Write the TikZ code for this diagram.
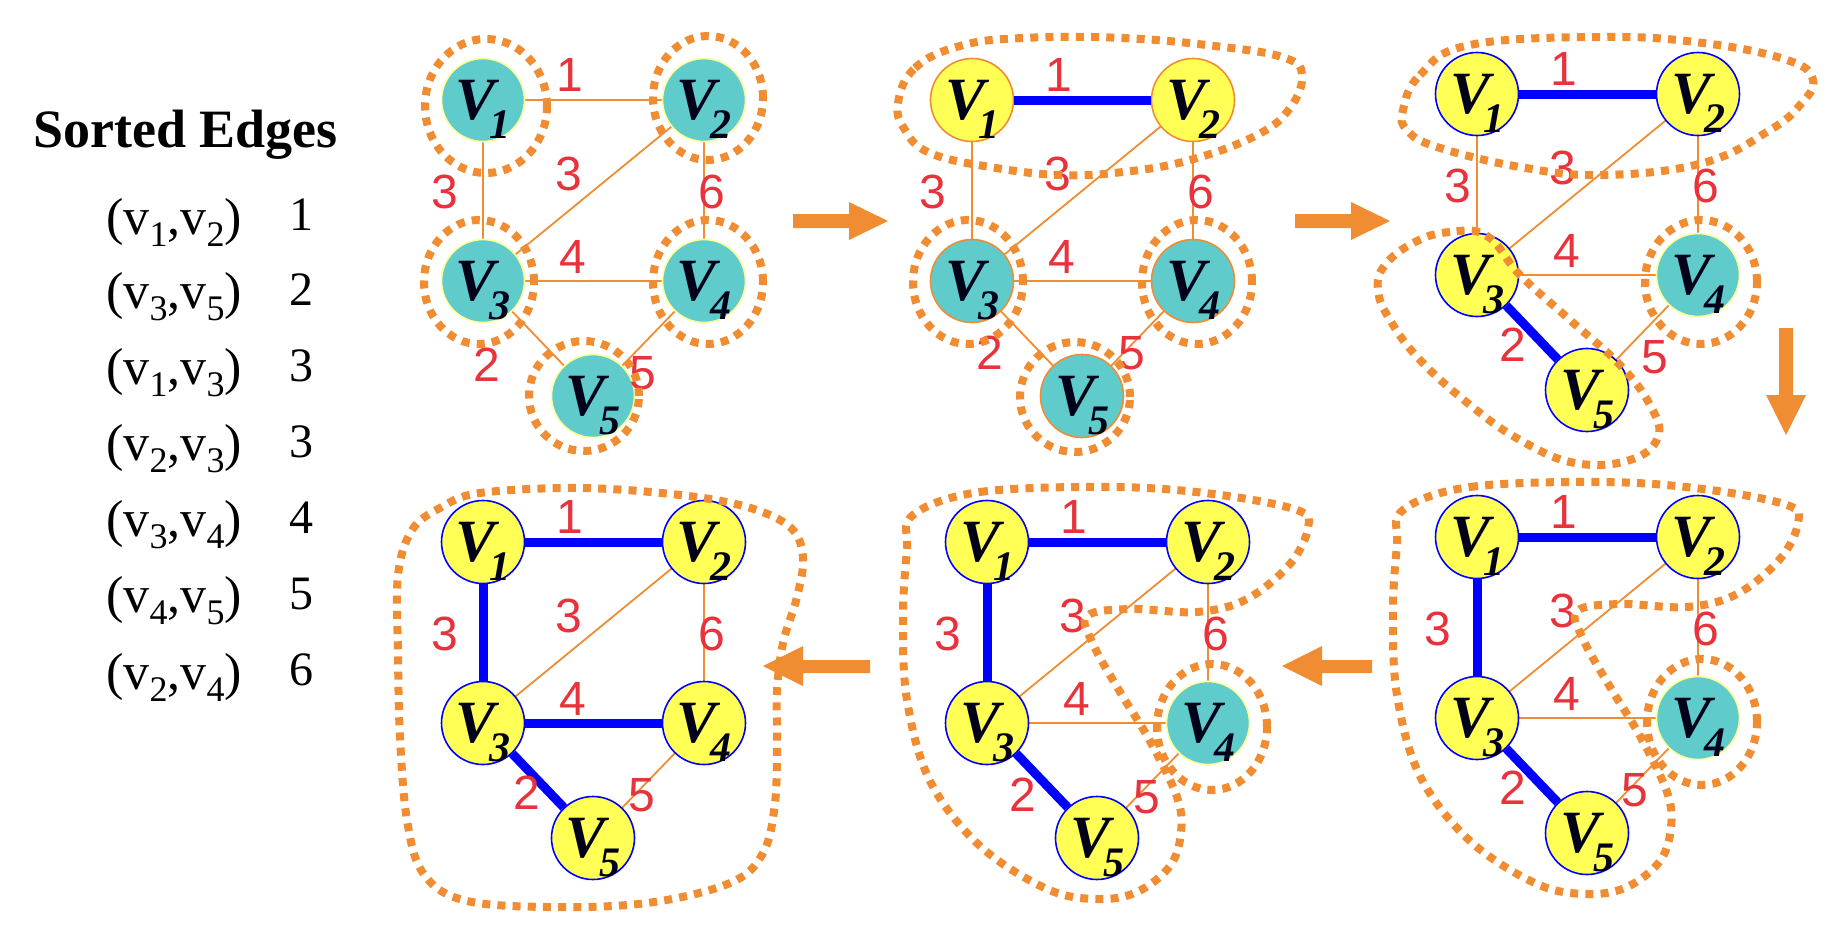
\documentclass[tikz,border=0pt]{standalone}
\usepackage{fontspec}
\setmainfont{Liberation Serif}
\newfontfamily\lsans{Liberation Sans}
\definecolor{orng}{HTML}{F08C32}
\definecolor{tealf}{HTML}{5FCBCB}
\definecolor{yelf}{HTML}{FFFF55}
\definecolor{paleb}{HTML}{FFFF99}
\definecolor{redl}{HTML}{E8323C}
\definecolor{bluel}{HTML}{0000FF}
\definecolor{ink}{HTML}{000018}
\pgfdeclarelayer{bgl}
\pgfdeclarelayer{edgel}
\pgfsetlayers{bgl,edgel,main}
\newcommand{\vlab}[1]{{\fontsize{30}{30}\selectfont\bfseries\itshape\color{ink}V\kern-3.5pt\raisebox{-9.5pt}[0pt][0pt]{\fontsize{21}{21}\selectfont #1}}}
\newcommand{\sbs}[1]{\raisebox{-6pt}{\fontsize{18}{18}\selectfont #1}}
\tikzset{
  vx/.style={circle, minimum size=41.5pt, inner sep=0pt, line width=0.8pt},
  tp/.style={vx, fill=tealf, draw=paleb},
  to/.style={vx, fill=tealf, draw=orng},
  yo/.style={vx, fill=yelf, draw=orng},
  yb/.style={vx, fill=yelf, draw=bluel},
  edg/.style={draw=orng, line width=0.9pt},
  tree/.style={draw=bluel, line width=4.5pt},
  wt/.style={text=redl, font=\lsans\fontsize{24}{24}\selectfont, inner sep=0pt},
  blob/.style={draw=orng, line width=4pt, dash pattern=on 4pt off 3.6pt},
  bigarrow/.style={fill=orng, draw=none},
  row/.style={anchor=west, inner sep=0pt, font=\fontsize{26}{26}\selectfont},
  num/.style={inner sep=0pt, font=\fontsize{24}{24}\selectfont}
}
\newcommand{\mkpanel}[8]{%
  \begin{scope}[shift={(#2,#3)}]
    \node[#4] (#1v1) at (0,0) {\vlab{1}};
    \node[#5] (#1v2) at (221,0) {\vlab{2}};
    \node[#6] (#1v3) at (0,181) {\vlab{3}};
    \node[#7] (#1v4) at (221,181) {\vlab{4}};
    \node[#8] (#1v5) at (110,296) {\vlab{5}};
  \end{scope}}
\begin{document}
\begin{tikzpicture}[x=0.5pt, y=-0.5pt]
\useasboundingbox (0,0) rectangle (1848,932);
\begin{pgfonlayer}{bgl}
\fill[white] (0,0) rectangle (1848,932);
\end{pgfonlayer}

% ---- sorted edge list
\node[anchor=west, inner sep=0pt, font=\fontsize{27}{27}\selectfont\bfseries] (title) at (33,135) {Sorted Edges};
\node[row] (r1) at (106,222) {(v\sbs{1},v\sbs{2})};
\node[row] (r2) at (106,297) {(v\sbs{3},v\sbs{5})};
\node[row] (r3) at (106,373) {(v\sbs{1},v\sbs{3})};
\node[row] (r4) at (106,449) {(v\sbs{2},v\sbs{3})};
\node[row] (r5) at (106,525) {(v\sbs{3},v\sbs{4})};
\node[row] (r6) at (106,601) {(v\sbs{4},v\sbs{5})};
\node[row] (r7) at (106,677) {(v\sbs{2},v\sbs{4})};
\node[num] (n1) at (301,215) {1};
\node[num] (n2) at (301,290) {2};
\node[num] (n3) at (301,366) {3};
\node[num] (n4) at (301,442) {3};
\node[num] (n5) at (301,518) {4};
\node[num] (n6) at (301,594) {5};
\node[num] (n7) at (301,670) {6};

% ---- nodes
\mkpanel{a}{483}{100}{tp}{tp}{tp}{tp}{tp}
\mkpanel{b}{972}{100}{yo}{yo}{to}{to}{to}
\mkpanel{c}{1477}{94}{yb}{yb}{yb}{tp}{yb}
\mkpanel{d}{483}{542}{yb}{yb}{yb}{yb}{yb}
\mkpanel{e}{987}{542}{yb}{yb}{yb}{tp}{yb}
\mkpanel{f}{1477}{537}{yb}{yb}{yb}{tp}{yb}

% ---- edges (behind nodes)
\begin{pgfonlayer}{edgel}
\foreach \p in {a,b,c,d,e,f}{
  \draw[edg] (\p v1.center) -- (\p v2.center);
  \draw[edg] (\p v1.center) -- (\p v3.center);
  \draw[edg] (\p v2.center) -- (\p v3.center);
  \draw[edg] (\p v3.center) -- (\p v4.center);
  \draw[edg] (\p v2.center) -- (\p v4.center);
  \draw[edg] (\p v3.center) -- (\p v5.center);
  \draw[edg] (\p v4.center) -- (\p v5.center);
}
\end{pgfonlayer}
\draw[tree] (bv1) -- (bv2);
\draw[tree] (cv1) -- (cv2);
\draw[tree] (cv3) -- (cv5);
\foreach \p in {d,e,f}{
  \draw[tree] (\p v1) -- (\p v2);
  \draw[tree] (\p v1) -- (\p v3);
  \draw[tree] (\p v3) -- (\p v5);
}
\draw[tree] (dv3) -- (dv4);

% ---- weights
\foreach \p/\x/\y/\lx/\tx/\ty/\fx/\fy in {a/483/100/-38/4/265/160/273, b/972/100/-39/18/253/160/253, c/1477/94/-19/36/251/178/263, d/483/542/-38/44/251/159/253, e/987/542/-39/36/253/160/255, f/1477/537/-39/36/251/158/253}{
  \begin{scope}[shift={(\x,\y)}]
    \node[wt] (\p w1) at (87,-25) {1};
    \node[wt] (\p w3a) at (\lx,92) {3};
    \node[wt] (\p w3b) at (86,74) {3};
    \node[wt] (\p w6) at (229,92) {6};
    \node[wt] (\p w4) at (90,157) {4};
    \node[wt] (\p w2) at (\tx,\ty) {2};
    \node[wt] (\p w5) at (\fx,\fy) {5};
  \end{scope}
}

% ---- blobs: panel 1
\draw[blob] (486,106) ellipse [x radius=30.5pt, y radius=33.5pt];
\draw[blob] (708,98) ellipse [x radius=27.5pt, y radius=31pt];
\draw[blob] (479,282) ellipse [x radius=27.5pt, y radius=31pt];
\draw[blob] (708,282) ellipse [x radius=27.5pt, y radius=31pt];
\draw[blob] (584,396) ellipse [x radius=27.5pt, y radius=27.5pt];
% panel 2
\draw[blob] plot[smooth cycle, tension=0.7] coordinates {(898,103) (915,68) (960,46) (1023,38) (1123,38) (1223,47) (1285,58) (1302,75) (1290,108) (1257,135) (1190,160) (1123,172) (1060,175) (990,167) (930,153) (905,130)};
\draw[blob] (968,282) ellipse [x radius=27.5pt, y radius=31pt];
\draw[blob] (1197,282) ellipse [x radius=27.5pt, y radius=31pt];
\draw[blob] (1075,397) ellipse [x radius=27.5pt, y radius=27.5pt];
% panel 3
\draw[blob] plot[smooth cycle, tension=0.7] coordinates {(1403,110) (1420,75) (1470,45) (1603,37) (1703,43) (1787,60) (1813,80) (1800,105) (1770,130) (1703,163) (1603,175) (1520,167) (1437,147) (1407,130)};
\draw[blob] plot[smooth cycle, tension=0.7] coordinates {(1487,236) (1450,232) (1415,242) (1385,265) (1378,290) (1390,320) (1420,360) (1470,405) (1520,440) (1575,463) (1630,460) (1658,437) (1650,405) (1620,365) (1570,320) (1520,275)};
\draw[blob] (1701,282) ellipse [x radius=28pt, y radius=31pt];
% panel 4
\draw[blob] plot[smooth cycle, tension=0.6] coordinates {(398,575) (412,530) (440,508) (480,493) (580,488) (680,495) (747,507) (790,527) (803,557) (797,597) (783,643) (777,690) (777,737) (775,803) (763,853) (730,883) (647,903) (547,907) (463,900) (423,873) (407,820) (400,737) (398,653)};
% panels 5 and 6
\foreach \x/\y in {987/542, 1477/537}{
  \begin{scope}[shift={(\x,\y)}]
  \draw[blob] plot[smooth cycle, tension=0.6] coordinates {(-74,-27) (-7,-50) (126,-55) (226,-48) (310,-32) (321,-14) (303,22) (260,57) (210,70) (143,67) (100,74) (106,102) (133,150) (163,199) (190,255) (194,290) (183,324) (150,350) (110,357) (60,347) (-7,304) (-57,239) (-80,158) (-84,75) (-80,8)};
  \draw[blob] (225,185) ellipse [x radius=27.5pt, y radius=31.5pt];
  \end{scope}
}

% ---- block arrows
\fill[bigarrow] (793,214) -- (849,214) -- (849,202) -- (888,221) -- (849,240) -- (849,228) -- (793,228) -- cycle;
\fill[bigarrow] (1295,214) -- (1351,214) -- (1351,202) -- (1390,221) -- (1351,240) -- (1351,228) -- (1295,228) -- cycle;
\fill[bigarrow] (1779,328) -- (1779,395) -- (1766,395) -- (1786,435) -- (1806,395) -- (1793,395) -- (1793,328) -- cycle;
\fill[bigarrow] (1372,660) -- (1322,660) -- (1322,646) -- (1282,666) -- (1322,686) -- (1322,673) -- (1372,673) -- cycle;
\fill[bigarrow] (870,660) -- (803,660) -- (803,646) -- (763,666) -- (803,686) -- (803,673) -- (870,673) -- cycle;
\end{tikzpicture}
\end{document}
